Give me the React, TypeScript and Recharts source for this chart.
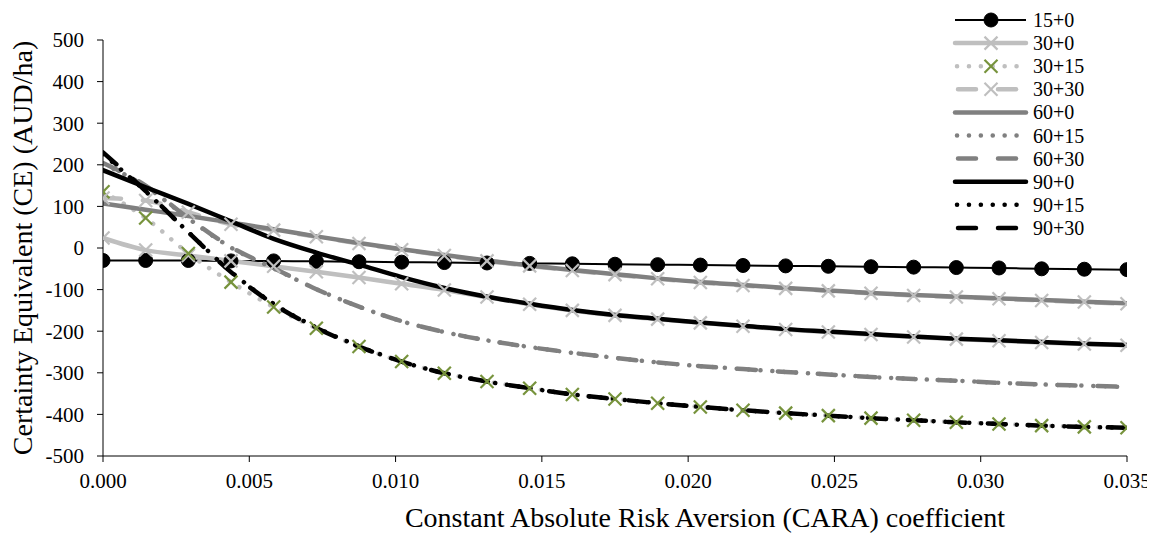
import React from 'react';
import { LineChart, Line, XAxis, YAxis, Legend, Label } from 'recharts';

// CARA coefficient (x) values at which the curves are plotted
const caraValues = [
  0, 0.001458, 0.002917, 0.004375, 0.005833, 0.007292, 0.00875, 0.010208, 0.011667,
  0.013125, 0.014583, 0.016042, 0.0175, 0.018958, 0.020417, 0.021875, 0.023333,
  0.024792, 0.02625, 0.027708, 0.029167, 0.030625, 0.032083, 0.033542, 0.035,
];

// Certainty equivalent (AUD/ha) per nitrogen strategy
const ce15_0 = [-30, -30, -30, -31, -31, -32, -33, -34, -35, -36, -37, -38, -39, -40, -41, -42, -43, -44, -45, -46, -47, -48, -50, -51, -52];
const ce30_0 = [24, -5, -18, -31, -44, -57, -71, -86, -101, -118, -135, -150, -162, -171, -180, -188, -196, -202, -208, -214, -219, -223, -227, -231, -234];
const ce30_15 = [135, 72, -13, -82, -142, -193, -237, -273, -301, -321, -337, -352, -363, -373, -382, -390, -397, -403, -409, -414, -419, -423, -427, -430, -432];
const ce30_30 = [120, 114, 86, 57, 43, 27, 11, -4, -18, -31, -43, -54, -64, -74, -83, -90, -97, -103, -109, -114, -118, -122, -126, -130, -134];
const ce60_0 = [107, 92, 77, 61, 45, 28, 12, -3, -17, -30, -42, -53, -63, -73, -82, -89, -96, -102, -108, -113, -117, -121, -125, -129, -133];
const ce60_15 = [202, 148, 71, 1, -49, -99, -141, -176, -202, -222, -238, -252, -264, -275, -284, -291, -298, -304, -310, -315, -319, -324, -328, -331, -334];
const ce60_30 = [204, 150, 72, 2, -48, -99, -141, -176, -202, -222, -238, -252, -264, -275, -284, -291, -298, -304, -310, -315, -319, -324, -328, -331, -334];
const ce90_0 = [187, 146, 106, 64, 22, -11, -40, -70, -96, -117, -134, -149, -161, -170, -179, -187, -195, -201, -207, -213, -218, -222, -226, -230, -233];
const ce90_15 = [226, 136, 38, -57, -134, -191, -236, -273, -301, -321, -337, -352, -363, -373, -382, -390, -397, -403, -409, -414, -419, -423, -427, -430, -432];
const ce90_30 = [230, 137, 38, -58, -135, -192, -237, -273, -301, -321, -337, -352, -363, -373, -382, -390, -397, -403, -409, -414, -419, -423, -427, -430, -432];

const xTicks = [0, 0.005, 0.01, 0.015, 0.02, 0.025, 0.03, 0.035];
const yTicks = [-500, -400, -300, -200, -100, 0, 100, 200, 300, 400, 500];

const xTitle = 'Constant Absolute Risk Aversion (CARA) coefficient';
const yTitle = 'Certainty Equivalent (CE) (AUD/ha)';

const LIGHT = '#BFBFBF';
const MID = '#808080';
const DARK = '#000000';
const GREEN = '#77933C';
const DOTS = '0.1 11.8';
const DASH = '18 22';

type Marker = 'circle' | 'x' | null;
interface SeriesDef {
  key: string;
  name: string;
  values: number[];
  color: string;
  width: number;
  dash?: string;
  marker: Marker;
  markerColor?: string;
}

const series: SeriesDef[] = [
  { key: 's15_0', name: '15+0', values: ce15_0, color: DARK, width: 2, marker: 'circle', markerColor: DARK },
  { key: 's30_0', name: '30+0', values: ce30_0, color: LIGHT, width: 4.5, marker: 'x', markerColor: LIGHT },
  { key: 's30_15', name: '30+15', values: ce30_15, color: LIGHT, width: 4.5, dash: DOTS, marker: 'x', markerColor: GREEN },
  { key: 's30_30', name: '30+30', values: ce30_30, color: LIGHT, width: 4.5, dash: DASH, marker: 'x', markerColor: LIGHT },
  { key: 's60_0', name: '60+0', values: ce60_0, color: MID, width: 4.5, marker: null },
  { key: 's60_15', name: '60+15', values: ce60_15, color: MID, width: 4.5, dash: DOTS, marker: null },
  { key: 's60_30', name: '60+30', values: ce60_30, color: MID, width: 4.5, dash: DASH, marker: null },
  { key: 's90_0', name: '90+0', values: ce90_0, color: DARK, width: 4.5, marker: null },
  { key: 's90_15', name: '90+15', values: ce90_15, color: DARK, width: 4.5, dash: DOTS, marker: null },
  { key: 's90_30', name: '90+30', values: ce90_30, color: DARK, width: 4.5, dash: DASH, marker: null },
];

const data = caraValues.map((x, i) => {
  const row: Record<string, number> = { x };
  series.forEach((s) => {
    row[s.key] = s.values[i];
  });
  return row;
});

const FONT = '"Liberation Serif", "Times New Roman", serif';

function MarkerShape({ cx, cy, marker, color }: { cx: number; cy: number; marker: Marker; color: string }) {
  if (marker === 'circle') {
    return <circle cx={cx} cy={cy} r={7} fill={color} stroke={color} strokeWidth={1} />;
  }
  if (marker === 'x') {
    const r = 6.5;
    return (
      <g>
        <line x1={cx - r} y1={cy - r} x2={cx + r} y2={cy + r} stroke={color} strokeWidth={2.2} />
        <line x1={cx - r} y1={cy + r} x2={cx + r} y2={cy - r} stroke={color} strokeWidth={2.2} />
      </g>
    );
  }
  return null;
}

const makeDot = (s: SeriesDef) => (props: any) => {
  const { cx, cy, index } = props;
  if (cx == null || cy == null) return <g key={`${s.key}-${index}`} />;
  return (
    <g key={`${s.key}-${index}`}>
      <MarkerShape cx={cx} cy={cy} marker={s.marker} color={s.markerColor || s.color} />
    </g>
  );
};

const renderLegend = () => {
  const rowStep = 23.1;
  const y0 = 12;
  return (
    <svg width={200} height={240} style={{ display: 'block', overflow: 'visible' }}>
      {series.map((s, i) => {
        const y = y0 + i * rowStep;
        const x1 = s.dash === DASH ? 17 : s.dash === DOTS ? 16 : 14;
        return (
          <g key={s.key}>
            <line
              x1={x1}
              y1={y}
              x2={85}
              y2={y}
              stroke={s.color}
              strokeWidth={s.width}
              strokeDasharray={s.dash}
              strokeLinecap={s.width > 3 ? 'round' : 'butt'}
            />
            {s.marker && <MarkerShape cx={50} cy={y} marker={s.marker} color={s.markerColor || s.color} />}
            <text x={92} y={y + 7} fontSize={20} fontFamily={FONT} fill="#000">
              {s.name}
            </text>
          </g>
        );
      })}
    </svg>
  );
};

export default function App() {
  return (
    <LineChart
      width={1147}
      height={530}
      data={data}
      margin={{ top: 32, right: 28, bottom: 52, left: 0 }}
      style={{ fontFamily: FONT }}
    >
      <XAxis
        dataKey="x"
        type="number"
        domain={[0, 0.035]}
        ticks={xTicks}
        tickFormatter={(v: number) => v.toFixed(3)}
        tick={{ fontSize: 21, fontFamily: FONT, fill: '#000' }}
        axisLine={{ stroke: '#000', strokeWidth: 1 }}
        tickLine={{ stroke: '#000', strokeWidth: 1 }}
        tickSize={6}
        tickMargin={11}
        height={30}
        interval={0}
        allowDataOverflow
      >
        <Label
          content={() => (
            <text x={697} y={519} textAnchor="middle" fontSize={28} fontFamily={FONT} fill="#000">
              {xTitle}
            </text>
          )}
        />
      </XAxis>
      <YAxis
        type="number"
        domain={[-500, 500]}
        ticks={yTicks}
        tick={{ fontSize: 21, fontFamily: FONT, fill: '#000' }}
        axisLine={{ stroke: '#000', strokeWidth: 1 }}
        tickLine={{ stroke: '#000', strokeWidth: 1 }}
        tickSize={6}
        tickMargin={13}
        width={95}
        interval={0}
      >
        <Label
          content={() => (
            <text
              x={24}
              y={240}
              transform="rotate(-90, 24, 240)"
              textAnchor="middle"
              fontSize={28}
              fontFamily={FONT}
              fill="#000"
            >
              {yTitle}
            </text>
          )}
        />
      </YAxis>
      <Legend
        layout="vertical"
        align="center"
        verticalAlign="middle"
        content={renderLegend}
        wrapperStyle={{ position: 'absolute', left: 933, top: 0, width: 200, height: 240 }}
      />
      {series.map((s) => (
        <Line
          key={s.key}
          dataKey={s.key}
          name={s.name}
          type="monotone"
          stroke={s.color}
          strokeWidth={s.width}
          strokeDasharray={s.dash}
          strokeLinecap="round"
          dot={s.marker ? makeDot(s) : false}
          activeDot={false}
          isAnimationActive={false}
        />
      ))}
    </LineChart>
  );
}
